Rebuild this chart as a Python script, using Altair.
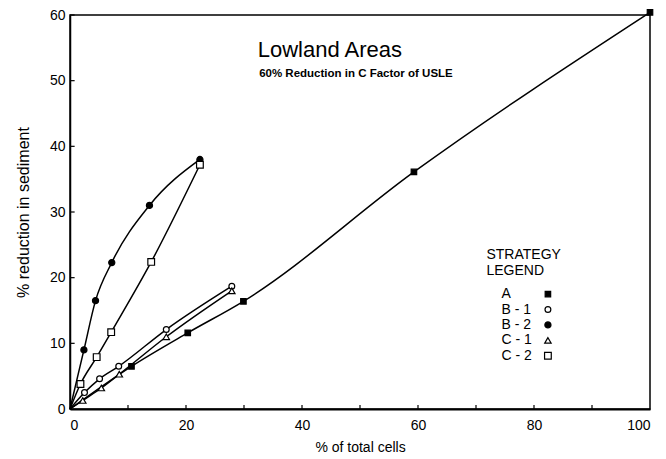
import altair as alt
import pandas as pd

strategies = ["A", "B-1", "B-2", "C-1", "C-2"]
A_x = [0, 10.6, 20.3, 29.9, 59.3, 100]
A_y = [0, 6.5, 11.6, 16.4, 36.1, 60.4]
B1_x = [0, 2.5, 5.1, 8.4, 16.6, 27.9]
B1_y = [0, 2.5, 4.6, 6.5, 12.1, 18.7]
B2_x = [0, 2.4, 4.4, 7.2, 13.7, 22.4]
B2_y = [0, 9.0, 16.5, 22.3, 31.0, 38.0]
C1_x = [0, 2.2, 5.4, 8.5, 16.6, 27.9]
C1_y = [0, 1.3, 3.2, 5.3, 11.0, 18.0]
C2_x = [0, 1.8, 4.6, 7.1, 14.0, 22.4]
C2_y = [0, 3.8, 7.9, 11.7, 22.4, 37.2]

legend_labels = ["A", "B - 1", "B - 2", "C - 1", "C - 2"]
legend_y = [17.5, 15.15, 12.8, 10.45, 8.1]
x_minor_ticks = [10, 20, 30, 40, 50, 60, 70, 80, 90]
y_minor_ticks = [10, 20, 30, 40, 50, 60]

series = {"A": (A_x, A_y), "B-1": (B1_x, B1_y), "B-2": (B2_x, B2_y),
          "C-1": (C1_x, C1_y), "C-2": (C2_x, C2_y)}
rows = []
for s, (xs_, ys_) in series.items():
    for i, (x, y) in enumerate(zip(xs_, ys_)):
        rows.append({"strategy": s, "x": x, "y": y, "i": i})
df = pd.DataFrame(rows)
pts = df[df["x"] > 0]

shape_scale = alt.Scale(domain=strategies,
                        range=["square", "circle", "circle", "triangle-up", "square"])
fill_scale = alt.Scale(domain=strategies,
                       range=["black", "white", "black", "white", "white"])
size_scale = alt.Scale(domain=strategies, range=[30, 45, 40, 22, 32])

xs = alt.Scale(domain=[0, 100], nice=False)
ys = alt.Scale(domain=[0, 60], nice=False)

font = "Liberation Sans"

base_x = alt.X("x:Q", scale=xs,
               axis=alt.Axis(title="% of total cells", values=[0, 20, 40, 60, 80, 100],
                             grid=False, ticks=False, domainColor="black", domainWidth=2,
                             labelFont=font, labelFontSize=14, labelColor="black",
                             labelPadding=9, titleFont=font, titleFontSize=14,
                             titleFontWeight="normal", titleColor="black", titlePadding=8))
base_y = alt.Y("y:Q", scale=ys,
               axis=alt.Axis(title="% reduction in sediment", values=[0, 10, 20, 30, 40, 50, 60],
                             grid=False, ticks=False, domainColor="black", domainWidth=1.5,
                             labelFont=font, labelFontSize=14, labelColor="black",
                             labelPadding=5, titleFont=font, titleFontSize=16,
                             titleFontWeight="normal", titleColor="black", titlePadding=18))

lines = alt.Chart(df).mark_line(interpolate="monotone", color="black", strokeWidth=1.5).encode(
    x=base_x, y=base_y, detail="strategy:N", order="i:Q")

points = alt.Chart(pts).mark_point(filled=True, stroke="black", strokeWidth=1.2, opacity=1).encode(
    x=alt.X("x:Q", scale=xs), y=alt.Y("y:Q", scale=ys),
    shape=alt.Shape("strategy:N", scale=shape_scale, legend=None),
    fill=alt.Fill("strategy:N", scale=fill_scale, legend=None),
    size=alt.Size("strategy:N", scale=size_scale, legend=None))

xt = pd.DataFrame({"x": x_minor_ticks, "y": [0] * len(x_minor_ticks), "y2": [0.6] * len(x_minor_ticks)})
xticks = alt.Chart(xt).mark_rule(color="black", strokeWidth=1.2).encode(
    x=alt.X("x:Q", scale=xs), y=alt.Y("y:Q", scale=ys), y2="y2:Q")
yt = pd.DataFrame({"y": y_minor_ticks, "x": [0] * len(y_minor_ticks), "x2": [0.8] * len(y_minor_ticks)})
yticks = alt.Chart(yt).mark_rule(color="black", strokeWidth=1.2).encode(
    y=alt.Y("y:Q", scale=ys), x=alt.X("x:Q", scale=xs), x2="x2:Q")

titles = pd.DataFrame({"x": [44.8, 49.3], "y": [54.6, 51.0],
                       "t": ["Lowland Areas", "60% Reduction in C Factor of USLE"]})
title1 = alt.Chart(titles.iloc[[0]]).mark_text(font=font, fontSize=22, color="black").encode(
    x=alt.X("x:Q", scale=xs), y=alt.Y("y:Q", scale=ys), text="t:N")
title2 = alt.Chart(titles.iloc[[1]]).mark_text(font=font, fontSize=11.5,
                                               fontWeight="bold", color="black").encode(
    x=alt.X("x:Q", scale=xs), y=alt.Y("y:Q", scale=ys), text="t:N")

head = pd.DataFrame({"x": [71.8, 71.8], "y": [23.45, 21.0], "t": ["STRATEGY", "LEGEND"]})
legend_head = alt.Chart(head).mark_text(font=font, fontSize=14, color="black", align="left").encode(
    x=alt.X("x:Q", scale=xs), y=alt.Y("y:Q", scale=ys), text="t:N")

leg = pd.DataFrame({"strategy": strategies, "t": legend_labels, "y": legend_y,
                    "x": [74.4] * 5, "mx": [82.4] * 5})
legend_text = alt.Chart(leg).mark_text(font=font, fontSize=14, color="black", align="left").encode(
    x=alt.X("x:Q", scale=xs), y=alt.Y("y:Q", scale=ys), text="t:N")
legend_marks = alt.Chart(leg).mark_point(filled=True, stroke="black", strokeWidth=1.2, opacity=1).encode(
    x=alt.X("mx:Q", scale=xs), y=alt.Y("y:Q", scale=ys),
    shape=alt.Shape("strategy:N", scale=shape_scale, legend=None),
    fill=alt.Fill("strategy:N", scale=fill_scale, legend=None),
    size=alt.Size("strategy:N", scale=size_scale, legend=None))

chart = alt.layer(lines, points, xticks, yticks, title1, title2, legend_head,
                  legend_text, legend_marks).properties(
    width=580, height=394,
    autosize=alt.AutoSizeParams(type="none"),
    padding={"left": 62, "top": 7, "right": 8, "bottom": 48},
    background="white",
).configure_view(stroke="black", strokeWidth=1.5)

chart.save("out.html", embed_options={"renderer": "svg", "actions": False})
